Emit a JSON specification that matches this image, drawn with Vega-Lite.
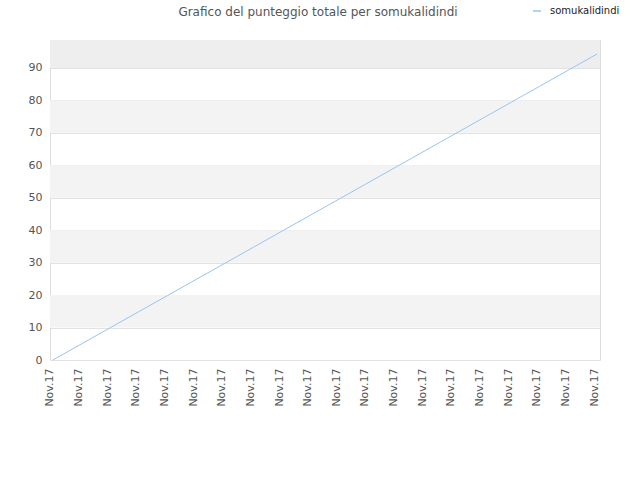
{
  "$schema": "https://vega.github.io/schema/vega-lite/v6.json",
  "width": 550,
  "height": 320,
  "autosize": "none",
  "padding": {"left": 50, "top": 40, "right": 40, "bottom": 120},
  "background": "white",
  "config": {
    "view": {"stroke": "#dddddd", "strokeWidth": 1},
    "font": "DejaVu Sans",
    "axisY": {
      "title": null,
      "labelFontSize": 11,
      "labelColor": "#555555",
      "labelPadding": 8,
      "labelOverlap": false,
      "ticks": false,
      "domain": false,
      "grid": true,
      "gridColor": "#e2e2e2",
      "zindex": 1
    }
  },
  "title": {
    "text": "Grafico del punteggio totale per somukalidindi",
    "fontSize": 12,
    "fontWeight": "normal",
    "color": "#555555",
    "anchor": "middle",
    "dx": -7,
    "offset": -13
  },
  "layer": [
    {
      "data": {"values": [
        {"lo": 10, "hi": 20},
        {"lo": 30, "hi": 40},
        {"lo": 50, "hi": 60},
        {"lo": 70, "hi": 80}
      ]},
      "mark": {"type": "rect", "color": "#f3f3f3"},
      "encoding": {
        "y": {
          "field": "lo",
          "type": "quantitative",
          "scale": {"domain": [0, 98.6], "nice": false},
          "axis": {"values": [0, 10, 20, 30, 40, 50, 60, 70, 80, 90]}
        },
        "y2": {"field": "hi"}
      }
    },
    {
      "data": {"values": [{"lo": 90, "hi": 98.6}]},
      "mark": {"type": "rect", "color": "#eeeeee"},
      "encoding": {
        "y": {
          "field": "lo",
          "type": "quantitative",
          "axis": {"values": [0, 10, 20, 30, 40, 50, 60, 70, 80, 90]}
        },
        "y2": {"field": "hi"}
      }
    },
    {
      "data": {"values": [
        {"i": 0, "label": "Nov.17", "score": 0},
        {"i": 1, "label": "Nov.17", "score": 4.96},
        {"i": 2, "label": "Nov.17", "score": 9.93},
        {"i": 3, "label": "Nov.17", "score": 14.89},
        {"i": 4, "label": "Nov.17", "score": 19.85},
        {"i": 5, "label": "Nov.17", "score": 24.82},
        {"i": 6, "label": "Nov.17", "score": 29.78},
        {"i": 7, "label": "Nov.17", "score": 34.74},
        {"i": 8, "label": "Nov.17", "score": 39.71},
        {"i": 9, "label": "Nov.17", "score": 44.67},
        {"i": 10, "label": "Nov.17", "score": 49.63},
        {"i": 11, "label": "Nov.17", "score": 54.6},
        {"i": 12, "label": "Nov.17", "score": 59.56},
        {"i": 13, "label": "Nov.17", "score": 64.52},
        {"i": 14, "label": "Nov.17", "score": 69.49},
        {"i": 15, "label": "Nov.17", "score": 74.45},
        {"i": 16, "label": "Nov.17", "score": 79.41},
        {"i": 17, "label": "Nov.17", "score": 84.38},
        {"i": 18, "label": "Nov.17", "score": 89.34},
        {"i": 19, "label": "Nov.17", "score": 94.3}
      ]},
      "mark": {"type": "line", "strokeWidth": 1},
      "encoding": {
        "x": {
          "field": "i",
          "type": "ordinal",
          "scale": {"type": "point", "padding": 0.1},
          "axis": {
            "title": null,
            "labelExpr": "'Nov.17'",
            "labelAngle": -90,
            "labelOffset": -3,
            "labelFontSize": 11,
            "labelColor": "#555555",
            "labelPadding": 8,
            "ticks": false,
            "domain": false,
            "grid": false
          }
        },
        "y": {
          "field": "score",
          "type": "quantitative",
          "axis": {"values": [0, 10, 20, 30, 40, 50, 60, 70, 80, 90]}
        },
        "color": {
          "datum": "somukalidindi",
          "scale": {"range": ["#99c5f2"]},
          "legend": {
            "title": null,
            "orient": "none",
            "legendX": 482,
            "legendY": -34,
            "symbolType": "stroke",
            "symbolSize": 64,
            "symbolStrokeWidth": 1.5,
            "labelFontSize": 10,
            "labelColor": "#222222",
            "labelOffset": 8
          }
        }
      }
    }
  ]
}
